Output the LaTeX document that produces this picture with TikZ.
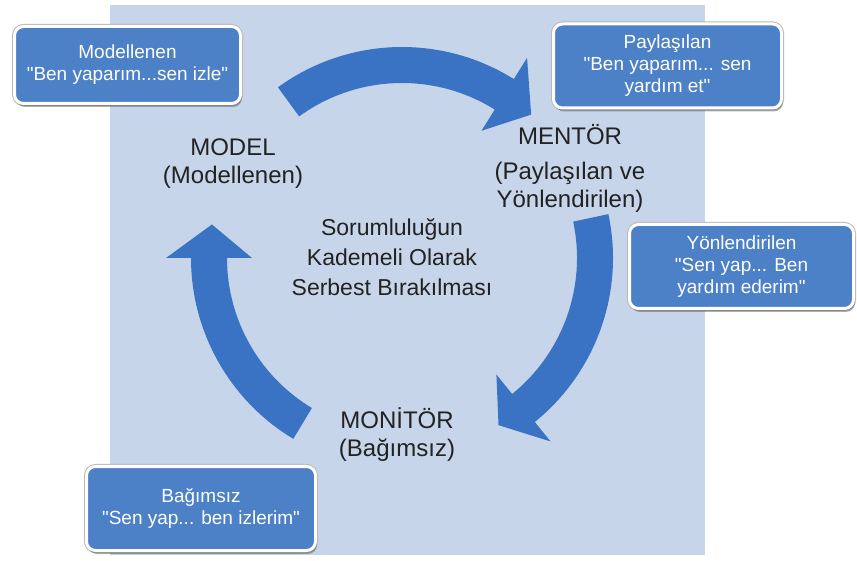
\documentclass[tikz,border=0pt]{standalone}
\usepackage{fontspec}
\setmainfont{Liberation Sans}[Ligatures=TeXOff]
\usetikzlibrary{shadows}
\definecolor{bgblue}{RGB}{199,213,234}
\definecolor{boxblue}{RGB}{76,128,199}
\definecolor{arrowblue}{RGB}{58,114,196}
\definecolor{labelgray}{RGB}{34,34,34}
\tikzset{
  stagebox/.style={draw=white, line width=3pt, fill=boxblue, rounded corners=9pt, text=white, align=center,
    font=\fontsize{19}{22}\selectfont, minimum height=84pt,
    preaction={draw=gray!55, line width=5pt},
    drop shadow={shadow xshift=1.5pt, shadow yshift=-3.5pt, opacity=0.45, fill=black!70}},
  stagelabel/.style={text=labelgray, align=center, font=\fontsize{24}{28}\selectfont}
}
% thick clockwise arc arrow round the cycle centre: start angle, head base angle, tip angle
\newcommand{\cyclearrow}[3]{%
  \fill[arrowblue] (#1:211) arc[start angle=#1, end angle=#2, radius=211] -- (#2:236) -- (#3:193)
    -- (#2:150) -- (#2:175) arc[start angle=#2, end angle=#1, radius=175] -- cycle;}
\begin{document}
\begin{tikzpicture}[x=1pt, y=1pt]
  \useasboundingbox (0,0) rectangle (857,560);
  \fill[bgblue] (110,5) rectangle (705,555);

  \begin{scope}[shift={(402,302)}]
    \cyclearrow{126}{58}{48}
    \cyclearrow{12}{-51}{-60}
    \cyclearrow{239}{180}{170}
  \end{scope}

  \node[stagelabel] (model) at (233,396) {MODEL\\(Modellenen)};
  \node[stagelabel] (mentor) at (570,392) {MENTÖR\\[7pt](Paylaşılan ve\\Yönlendirilen)};
  \node[stagelabel, font=\fontsize{23}{30}\selectfont] (release) at (392,303) {Sorumluluğun\\Kademeli Olarak\\Serbest Bırakılması};
  \node[stagelabel] (monitor) at (397,125) {MONİTÖR\\(Bağımsız)};

  \node[stagebox, minimum width=226pt, minimum height=77pt] (modbox) at (127.5,495) {Modellenen\\"Ben yaparım...sen izle"};
  \node[stagebox, minimum width=228pt] (paybox) at (667.5,494) {Paylaşılan\\"Ben yaparım... sen\\yardım et"};
  \node[stagebox, minimum width=224pt] (yonbox) at (741.5,293.5) {Yönlendirilen\\"Sen yap... Ben\\yardım ederim"};
  \node[stagebox, minimum width=229pt] (bagbox) at (201,51.5) {Bağımsız\\"Sen yap... ben izlerim"};
\end{tikzpicture}
\end{document}
